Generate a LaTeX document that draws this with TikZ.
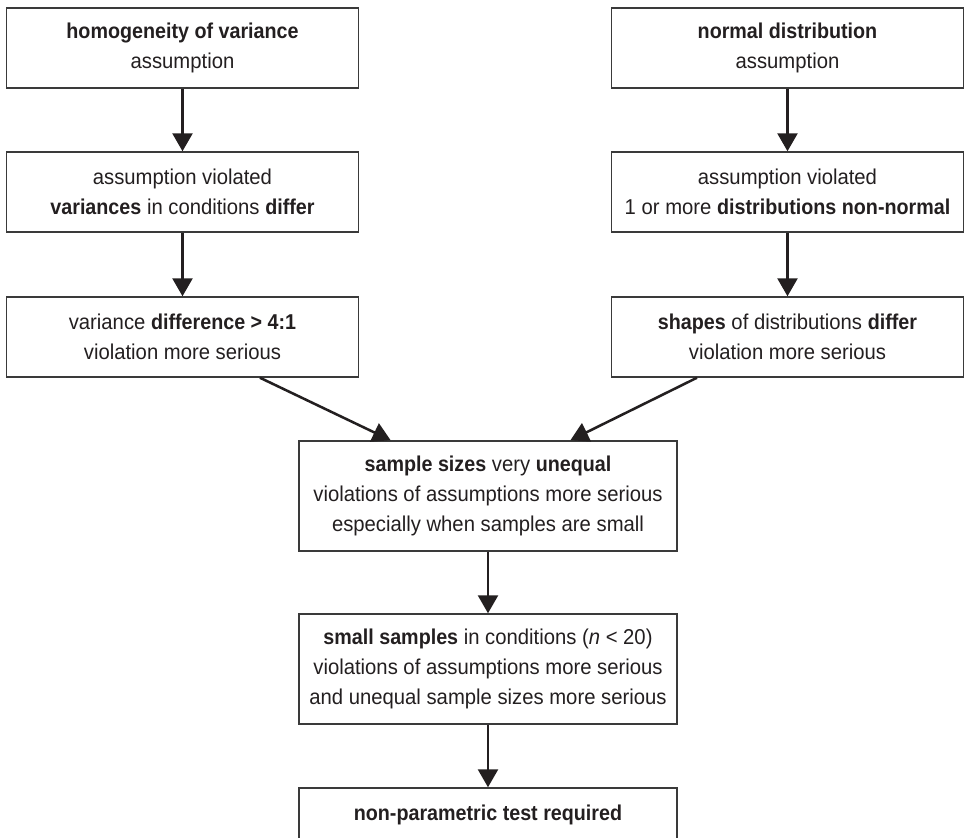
\documentclass[tikz,border=0pt]{standalone}
\usepackage{fontspec}
\setmainfont{Liberation Sans}[FakeStretch=0.944,BoldFeatures={FakeStretch=0.918}]
\usetikzlibrary{arrows.meta}
\definecolor{ink}{RGB}{35,31,32}
\definecolor{frame}{RGB}{58,58,58}
\begin{document}
\begin{tikzpicture}[x=0.75pt,y=-0.75pt,
  box/.style={draw=frame, line width=1.1pt, fill=white, text=ink, align=center,
    inner sep=0pt, font=\fontsize{16.1pt}{22.5pt}\selectfont},
  sidebox/.style={box, minimum width=264pt, minimum height=60pt},
  midbox/.style={box, minimum width=283.5pt, minimum height=82.5pt},
  flow/.style={draw=ink, line width=1.9pt, -{Triangle[length=13.5pt,width=15pt]}}]
\useasboundingbox[fill=white] (0,0) rectangle (965,838);

% left column: homogeneity of variance
\node[sidebox] (A1) at (182.5,48) {\textbf{homogeneity of variance}\\assumption};
\node[sidebox] (A2) at (182.5,192) {assumption violated\\\textbf{variances} in conditions \textbf{differ}};
\node[sidebox] (A3) at (182.5,337) {variance \textbf{difference > 4:1}\\violation more serious};

% right column: normal distribution
\node[sidebox] (B1) at (787.5,48) {\textbf{normal distribution}\\assumption};
\node[sidebox] (B2) at (787.5,192) {assumption violated\\1 or more \textbf{distributions non-normal}};
\node[sidebox] (B3) at (787.5,337) {\textbf{shapes} of distributions \textbf{differ}\\violation more serious};

% central chain
\node[midbox] (C) at (488,496) {\textbf{sample sizes} very \textbf{unequal}\\violations of assumptions more serious\\especially when samples are small};
\node[midbox] (D) at (488,669) {\textbf{small samples} in conditions (\textit{n} < 20)\\violations of assumptions more serious\\and unequal sample sizes more serious};
\node[box, minimum width=283.5pt, minimum height=40.5pt] (E) at (488,815) {\textbf{non-parametric test required}};

% connectors
\draw[flow] (A1) -- (A2);
\draw[flow] (A2) -- (A3);
\draw[flow] (B1) -- (B2);
\draw[flow] (B2) -- (B3);
\draw[flow] ([xshift=58.1pt]A3.south) -- ([xshift=-73pt]C.north);
\draw[flow] ([xshift=-67.9pt]B3.south) -- ([xshift=61.8pt]C.north);
\draw[flow] (C) -- (D);
\draw[flow] (D) -- (E);
\end{tikzpicture}
\end{document}
